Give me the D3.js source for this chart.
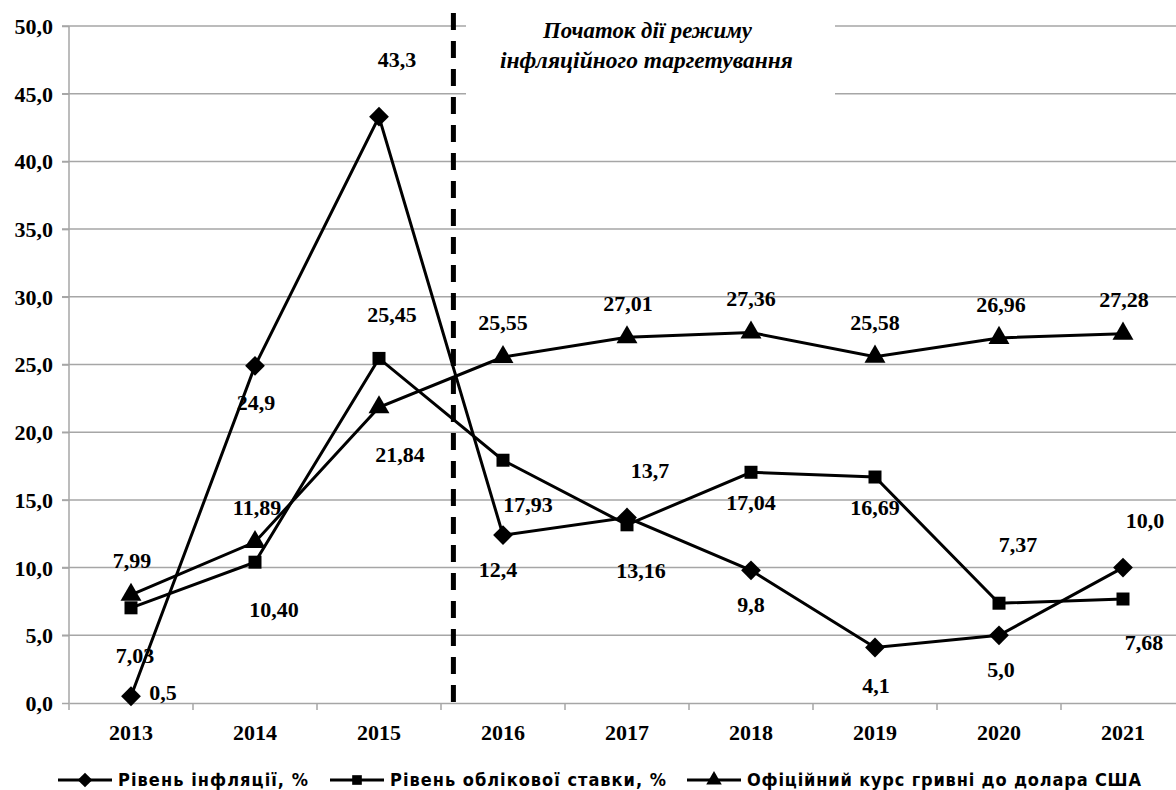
<!DOCTYPE html>
<html>
<head>
<meta charset="utf-8">
<script src="https://cdn.jsdelivr.net/npm/d3@7"></script>
<style>
  body { margin: 0; background: #fff; }
  text { font-family: "Liberation Serif", "Times New Roman", serif; font-weight: bold; fill: #000; }
</style>
</head>
<body>
<div id="chart"></div>
<script>
const years = ["2013","2014","2015","2016","2017","2018","2019","2020","2021"]
const inflation = [0.5, 24.9, 43.3, 12.4, 13.7, 9.8, 4.1, 5.0, 10.0]
const inflationLabels = ["0,5","24,9","43,3","12,4","13,7","9,8","4,1","5,0","10,0"]
const discountRate = [7.03, 10.40, 25.45, 17.93, 13.16, 17.04, 16.69, 7.37, 7.68]
const discountLabels = ["7,03","10,40","25,45","17,93","13,16","17,04","16,69","7,37","7,68"]
const exchangeRate = [7.99, 11.89, 21.84, 25.55, 27.01, 27.36, 25.58, 26.96, 27.28]
const exchangeLabels = ["7,99","11,89","21,84","25,55","27,01","27,36","25,58","26,96","27,28"]
const yTicks = [0, 5, 10, 15, 20, 25, 30, 35, 40, 45, 50]
const seriesNames = ["Рівень інфляції, %", "Рівень облікової ставки, %", "Офіційний курс гривні до долара США"]

// label offsets (dx to centre, dy to baseline) from each point, px
const inflationOff = [[32,4],[1,44],[18,-50],[-5,42],[23,-40],[0,42],[1,46],[2,42],[22,-40]]
const discountOff = [[4,55],[19,55],[13,-36],[25,52],[14,53],[0,38],[0,38],[19,-51],[21,51]]
const exchangeOff = [[1,-27],[2,-27],[21,55],[0,-27],[1,-26],[0,-27],[0,-27],[2,-26],[1,-27]]

const margin = {top:26, bottom:87, left:69}
const width = 1176
const height = 790
const plotRight = 1185

const svg = d3.select("#chart").append("svg")
    .attr("width", width)
    .attr("height", height)

const x = d3.scaleBand()
    .domain(years)
    .range([margin.left, plotRight])

const y = d3.scaleLinear()
    .domain([0, 50])
    .range([height - margin.bottom, margin.top])

const cx = d => x(d) + x.bandwidth() / 2

// gridlines
svg.append("g")
    .selectAll("line")
    .data(yTicks.slice(1))
    .enter().append("line")
    .attr("x1", margin.left - 7)
    .attr("x2", width)
    .attr("y1", d => y(d))
    .attr("y2", d => y(d))
    .style("stroke", "#a6a6a6")
    .style("stroke-width", 1.5)

// y axis
const yAxis = d3.axisLeft(y)
    .tickValues(yTicks)
    .tickSize(7)
    .tickFormat(d => d3.format(".1f")(d).replace(".", ","))

svg.append("g")
    .attr("transform", "translate(" + margin.left + ",0)")
    .call(yAxis)
    .call(g => g.selectAll("line, path").style("stroke", "#a6a6a6").style("stroke-width", 1.5))
    .call(g => g.select(".domain").attr("d", "M0," + y(0) + "V" + y(50)))
    .call(g => g.selectAll("text").attr("x", -16).attr("dy", "0.34em")
        .style("font-size", "22px").style("font-family", "Liberation Serif").style("font-weight", "bold"))

// x axis
const xAxis = d3.axisBottom(x).tickSize(0)
const xg = svg.append("g")
    .attr("transform", "translate(0," + y(0) + ")")
    .call(xAxis)
xg.select(".domain").style("stroke", "#a6a6a6").style("stroke-width", 1.5)
xg.selectAll("text")
    .attr("y", 37).attr("dy", null)
    .style("font-size", "22px").style("font-family", "Liberation Serif").style("font-weight", "bold")

xg.selectAll(".bticks")
    .data(years)
    .enter().append("line")
    .attr("x1", d => x(d))
    .attr("x2", d => x(d))
    .attr("y1", 0)
    .attr("y2", 7)
    .style("stroke", "#a6a6a6")
    .style("stroke-width", 1.5)

// annotation box
svg.append("rect")
    .attr("x", 466)
    .attr("y", 12)
    .attr("width", 369)
    .attr("height", 90)
    .style("fill", "#fff")

svg.append("text")
    .attr("x", 543)
    .attr("y", 38)
    .attr("textLength", 209)
    .attr("lengthAdjust", "spacingAndGlyphs")
    .style("font-style", "italic")
    .style("font-size", "23px")
    .text("Початок дії режиму")
svg.append("text")
    .attr("x", 500)
    .attr("y", 68)
    .attr("textLength", 293)
    .attr("lengthAdjust", "spacingAndGlyphs")
    .style("font-style", "italic")
    .style("font-size", "23px")
    .text("інфляційного таргетування")

// dashed separator
const sepX = cx("2015") + x.step() * 0.6
svg.append("line")
    .attr("x1", sepX)
    .attr("x2", sepX)
    .attr("y1", 13)
    .attr("y2", y(0))
    .style("stroke", "#000")
    .style("stroke-width", 5)
    .style("stroke-dasharray", "17,11")

const line = d3.line()
    .x((d, i) => cx(years[i]))
    .y(d => y(d))

const series = [
    {values: inflation, labels: inflationLabels, off: inflationOff, symbol: d3.symbolSquare, size: 196, rot: 45},
    {values: discountRate, labels: discountLabels, off: discountOff, symbol: d3.symbolSquare, size: 169, rot: 0},
    {values: exchangeRate, labels: exchangeLabels, off: exchangeOff, symbol: d3.symbolTriangle, size: 190, rot: 0}
]

series.forEach(s => {
    svg.append("path")
        .datum(s.values)
        .attr("d", line)
        .style("fill", "none")
        .style("stroke", "#000")
        .style("stroke-width", 3)

    svg.append("g")
        .selectAll("path")
        .data(s.values)
        .enter().append("path")
        .attr("transform", (d, i) => "translate(" + cx(years[i]) + "," + y(d) + ") rotate(" + s.rot + ")")
        .attr("d", d3.symbol().type(s.symbol).size(s.size))
        .style("fill", "#000")
})

series.forEach(s => {
    svg.append("g")
        .selectAll("text")
        .data(s.values)
        .enter().append("text")
        .attr("x", (d, i) => cx(years[i]) + s.off[i][0])
        .attr("y", (d, i) => y(d) + s.off[i][1])
        .attr("text-anchor", "middle")
        .style("font-size", "22px")
        .text((d, i) => s.labels[i])
})

// legend
const legendX = [58, 330, 687]
const legendTextLen = [190, 276, 394]
const legend = svg.append("g")
    .selectAll("g")
    .data(series)
    .enter().append("g")
    .attr("transform", (d, i) => "translate(" + legendX[i] + ",780)")

legend.append("line")
    .attr("x1", 0)
    .attr("x2", 54)
    .style("stroke", "#000")
    .style("stroke-width", 3)

legend.append("path")
    .attr("transform", d => "translate(27,0) rotate(" + d.rot + ")")
    .attr("d", d => d3.symbol().type(d.symbol).size(d.size * 0.55)())
    .style("fill", "#000")

legend.append("text")
    .attr("x", 60)
    .attr("y", 6)
    .attr("textLength", (d, i) => legendTextLen[i])
    .attr("lengthAdjust", "spacing")
    .style("font-family", "'Liberation Sans Narrow', 'DejaVu Sans Condensed', sans-serif")
    .style("font-size", "18px")
    .text((d, i) => seriesNames[i])
</script>
</body>
</html>
